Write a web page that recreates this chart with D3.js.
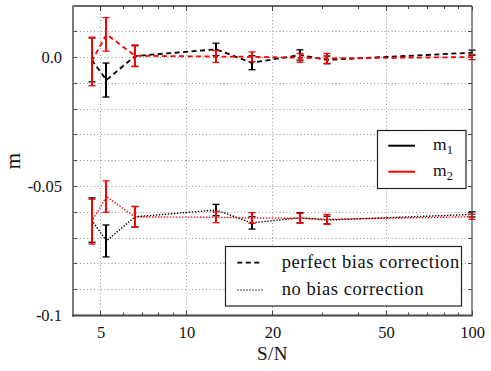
<!DOCTYPE html>
<html><head><meta charset="utf-8">
<script src="https://cdn.jsdelivr.net/npm/d3@7"></script>
<style>
body{margin:0;background:#fff;}
svg{display:block;}
text{font-family:"Liberation Serif","Times New Roman",serif;fill:#111;}
</style></head>
<body><svg id="c" width="491" height="371"></svg>
<script>
// ---- data ----
const sn = [4.65, 5.24, 6.6, 12.7, 16.9, 25, 31, 100];
const m1Perfect = [-0.0009, -0.0087, 0.0006, 0.0032, -0.0020, 0.0010, -0.0009, 0.0019];
const m1PerfectErr = [0.0085, 0.0066, 0.0040, 0.0024, 0.0027, 0.0020, 0.0015, 0.0010];
const m2Perfect = [-0.0015, 0.0090, 0.0007, 0.0004, 0.0003, -0.0001, -0.0003, 0.0002];
const m2PerfectErr = [0.0094, 0.0065, 0.0042, 0.0023, 0.0019, 0.0017, 0.0019, 0.0010];
const m1NoBias = [-0.0630, -0.0711, -0.0617, -0.0591, -0.0641, -0.0621, -0.0630, -0.0608];
const m1NoBiasErr = [0.0086, 0.0062, 0.0040, 0.0022, 0.0024, 0.0020, 0.0015, 0.0010];
const m2NoBias = [-0.0636, -0.0539, -0.0618, -0.0619, -0.0622, -0.0623, -0.0627, -0.0617];
const m2NoBiasErr = [0.0087, 0.0061, 0.0040, 0.0021, 0.0021, 0.0019, 0.0019, 0.0010];
const xTickValues = [5, 10, 20, 50, 100];
const xMinorTicks = [6, 7, 8, 9, 30, 40, 60, 70, 80, 90];
const yTickValues = [0, -0.05, -0.1];
const yTickLabels = ["0.0", "-0.05", "-0.1"];
const yGridValues = [0.01, 0, -0.01, -0.02, -0.03, -0.04, -0.05, -0.06, -0.07, -0.08, -0.09];
const seriesNames = ["m1", "m2"];
const styleNames = ["perfect bias correction", "no bias correction"];

// ---- layout ----
const FONT = "Liberation Serif";
const svg = d3.select("#c");
const L = 73, R = 472, T = 6, B = 315.5;
const x = d3.scaleLog().domain([4, 100]).range([L, R]);
const y = d3.scaleLinear().domain([-0.1, 0.02]).range([B, T]);
const snap = v => Math.round(v - 0.5) + 0.5;

// grid
const g = svg.append("g");
g.selectAll(".hg").data(yGridValues).enter().append("line")
  .attr("x1", L).attr("x2", R).attr("y1", d => snap(y(d))).attr("y2", d => snap(y(d)))
  .attr("stroke", "#9a9a9a").attr("stroke-width", 1).attr("stroke-dasharray", "1,2.5");
g.selectAll(".vg").data(xTickValues.filter(v => v < 100)).enter().append("line")
  .attr("y1", T).attr("y2", B).attr("x1", d => snap(x(d))).attr("x2", d => snap(x(d)))
  .attr("stroke", "#9a9a9a").attr("stroke-width", 1).attr("stroke-dasharray", "1,2.5");

// ticks
const tk = svg.append("g").attr("stroke", "#444").attr("stroke-width", 1);
xMinorTicks.forEach(v => {
  tk.append("line").attr("x1", snap(x(v))).attr("x2", snap(x(v))).attr("y1", B).attr("y2", B - 3);
  tk.append("line").attr("x1", snap(x(v))).attr("x2", snap(x(v))).attr("y1", T).attr("y2", T + 3);
});
xTickValues.forEach(v => {
  tk.append("line").attr("x1", snap(x(v))).attr("x2", snap(x(v))).attr("y1", B).attr("y2", B - 5);
  tk.append("line").attr("x1", snap(x(v))).attr("x2", snap(x(v))).attr("y1", T).attr("y2", T + 5);
});
yGridValues.forEach(v => {
  tk.append("line").attr("x1", L).attr("x2", L + 4).attr("y1", snap(y(v))).attr("y2", snap(y(v)));
  tk.append("line").attr("x1", R).attr("x2", R - 4).attr("y1", snap(y(v))).attr("y2", snap(y(v)));
});

// data lines + error bars
const line = d3.line().x(d => x(d[0])).y(d => y(d[1]));
function drawSeries(vals, errs, color, dash, lw) {
  const pts = sn.map((s, i) => [s, vals[i]]);
  svg.append("path").datum(pts).attr("d", line).attr("fill", "none")
    .attr("stroke", color).attr("stroke-width", lw).attr("stroke-dasharray", dash);
  const eg = svg.append("g").attr("stroke", color).attr("stroke-width", 2);
  sn.forEach((s, i) => {
    const cx = Math.round(x(s)), y0 = y(vals[i] - errs[i]), y1 = y(vals[i] + errs[i]);
    eg.append("line").attr("x1", cx).attr("x2", cx).attr("y1", y0).attr("y2", y1);
    eg.append("line").attr("x1", cx - 3.5).attr("x2", cx + 3.5).attr("y1", y0).attr("y2", y0).attr("stroke-width", 1.3);
    eg.append("line").attr("x1", cx - 3.5).attr("x2", cx + 3.5).attr("y1", y1).attr("y2", y1).attr("stroke-width", 1.3);
  });
}
const dashed = "5,3.5", dotted = "1.4,1.6";
drawSeries(m1NoBias, m1NoBiasErr, "#000", dotted, 1.4);
drawSeries(m1Perfect, m1PerfectErr, "#000", dashed, 1.8);
drawSeries(m2NoBias, m2NoBiasErr, "#ff0000", dotted, 1.4);
drawSeries(m2Perfect, m2PerfectErr, "#ff0000", dashed, 1.8);

// frame
svg.append("line").attr("x1", L).attr("x2", R).attr("y1", T).attr("y2", T).attr("stroke", "#333").attr("stroke-width", 1.3);
svg.append("line").attr("x1", R).attr("x2", R).attr("y1", T).attr("y2", B).attr("stroke", "#555").attr("stroke-width", 1.3);
svg.append("line").attr("x1", L).attr("x2", L).attr("y1", T - 0.6).attr("y2", B + 1).attr("stroke", "#7a7a7a").attr("stroke-width", 2);
svg.append("line").attr("x1", L - 1).attr("x2", R + 0.6).attr("y1", B).attr("y2", B).attr("stroke", "#444").attr("stroke-width", 2);

// axes labels via d3 axes
const xAxis = d3.axisBottom(x).tickValues(xTickValues).tickFormat(d3.format("d")).tickSize(0).tickPadding(11);
const xa = svg.append("g").attr("transform", `translate(0,${B})`).call(xAxis);
xa.select(".domain").remove();
xa.selectAll("text").attr("font-family", FONT).attr("font-size", 16.5).attr("fill", "#111");

const yAxis = d3.axisLeft(y).tickValues(yTickValues).tickFormat((d, i) => yTickLabels[i]).tickSize(0).tickPadding(11);
const ya = svg.append("g").attr("transform", `translate(${L},0)`).call(yAxis);
ya.select(".domain").remove();
ya.selectAll("text").attr("font-family", FONT).attr("font-size", 16.5).attr("fill", "#111");

svg.append("text").attr("x", (L + R) / 2).attr("y", 360).attr("text-anchor", "middle")
  .attr("font-size", 19).attr("letter-spacing", 0.5).text("S/N");
svg.append("text").attr("transform", "translate(20,161) rotate(-90)").attr("text-anchor", "middle")
  .attr("font-size", 21).text("m");

// legend 1
const l1 = svg.append("g");
l1.append("rect").attr("x", 377.5).attr("y", 130.5).attr("width", 88.5).attr("height", 58)
  .attr("fill", "#fff").attr("stroke", "#222").attr("stroke-width", 1.2);
[["#000", 145.7], ["#ff0000", 171.7]].forEach((c, i) => {
  l1.append("line").attr("x1", 388.3).attr("x2", 415).attr("y1", c[1]).attr("y2", c[1])
    .attr("stroke", c[0]).attr("stroke-width", 2);
  const t = l1.append("text").attr("x", 433).attr("y", c[1] + 4.5).attr("font-size", 17.5);
  t.append("tspan").text(seriesNames[i].slice(0, 1));
  t.append("tspan").attr("dy", 4).attr("font-size", 12.5).text(seriesNames[i].slice(1));
});

// legend 2
const l2 = svg.append("g");
l2.append("rect").attr("x", 225.5).attr("y", 246.5).attr("width", 236).attr("height", 59.5)
  .attr("fill", "#fff").attr("stroke", "#222").attr("stroke-width", 1.2);
[[dashed, 262.7, 1.8], [dotted, 290, 1.2]].forEach((c, i) => {
  l2.append("line").attr("x1", 237.3).attr("x2", 262.7).attr("y1", c[1]).attr("y2", c[1])
    .attr("stroke", "#000").attr("stroke-width", c[2]).attr("stroke-dasharray", c[0]);
  l2.append("text").attr("x", 281.7).attr("y", c[1] + 5).attr("font-size", 18.5)
    .attr("letter-spacing", 0.55).text(styleNames[i]);
});
</script></body></html>
